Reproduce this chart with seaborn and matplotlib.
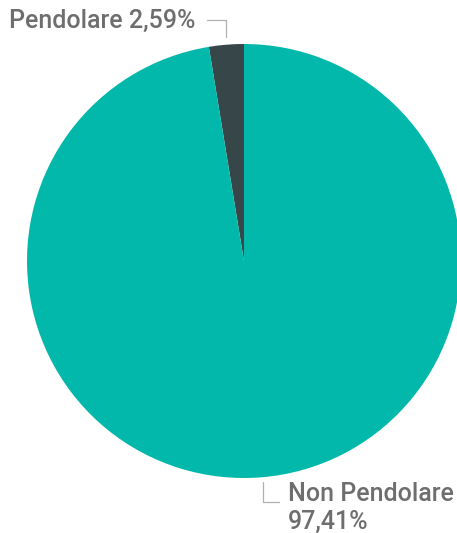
import matplotlib
matplotlib.use("Agg")
import matplotlib.pyplot as plt
import seaborn as sns

categories = ["Pendolare", "Non Pendolare"]
values = [2.59, 97.41]
label_texts = ["Pendolare 2,59%", "Non Pendolare\n97,41%"]
colors = ["#374649", "#01B8AA"]

sns.set_style("white")
plt.rcParams['font.family'] = ['Roboto', 'DejaVu Sans']

W, H = 457, 533
fig = plt.figure(figsize=(W / 100, H / 100), dpi=100)
ax = fig.add_axes([0, 0, 1, 1])

cx, cy, r = 244, H - 261, 217
ax.pie(values, colors=colors, startangle=90, counterclock=True,
       center=(cx, cy), radius=r, frame=True,
       wedgeprops=dict(linewidth=0))
ax.set_xlim(0, W)
ax.set_ylim(0, H)
ax.set_aspect("equal")
ax.axis("off")

txt_col = "#6e6e6e"
line_col = "#b0b0b0"
fs = 18
# Pendolare label
ax.text(9, H - 21, label_texts[0], fontsize=fs, color=txt_col, va="center", ha="left",
        fontweight="medium")
ax.plot([207, 226, 226], [H - 20, H - 20, H - 37], color=line_col, lw=0.9)
# Non Pendolare label
ax.text(288, H - 508, label_texts[1], fontsize=fs, color=txt_col, va="center", ha="left",
        linespacing=1.2, fontweight="medium")
ax.plot([263, 263, 279], [H - 482, H - 502, H - 502], color=line_col, lw=0.9)

fig.savefig("out.png", dpi=100)
